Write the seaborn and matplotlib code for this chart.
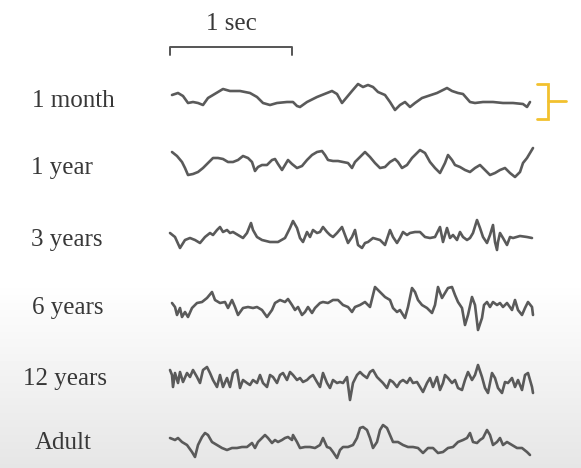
import matplotlib
matplotlib.use("Agg")
import matplotlib.pyplot as plt
import numpy as np
import pandas as pd
import seaborn as sns

# EEG traces by age.
# t = samples from trace start (FS samples = 1 sec), v = amplitude (arb. units, up = positive)
ages = ["1 month", "1 year", "3 years", "6 years", "12 years", "Adult"]

t_1month = [2, 8, 13, 18, 23, 28, 33, 38, 43, 48, 53, 60, 70, 80, 87, 93, 100, 107, 117, 123,
            127, 130, 137, 147, 157, 162, 167, 172, 177, 182, 188, 193, 198, 203, 208, 215, 220, 225, 230, 235,
            240, 245, 252, 258, 267, 277, 282, 288, 293, 300, 305, 313, 323, 333, 343, 353, 357, 360]
v_1month = [3, 5, 2, -5, -4, -5, -7, 0, 3, 6, 9, 7, 7, 5, 1, -5, -7, -5, -4, -4,
            -8, -9, -4, 1, 5, 7, 4, -5, 1, 7, 14, 11, 13, 11, 6, 3, -4, -12, -7, -4,
            -9, -5, 0, 2, 5, 10, 7, 5, 4, -4, -5, -4, -4, -5, -5, -6, -9, -4]

t_1year = [2, 7, 12, 15, 18, 23, 28, 33, 38, 43, 48, 53, 58, 63, 68, 73, 78, 82, 85, 88,
           92, 97, 102, 105, 108, 112, 115, 118, 122, 127, 132, 137, 142, 147, 152, 155, 158, 163, 168, 173,
           178, 182, 185, 190, 195, 200, 205, 210, 215, 220, 225, 228, 232, 237, 242, 247, 250, 255, 260, 265,
           270, 275, 278, 282, 285, 290, 295, 300, 305, 310, 315, 320, 325, 330, 335, 340, 345, 350, 353, 357,
           360, 363]
v_1year = [11, 7, 1, -5, -12, -11, -9, -5, 0, 5, 5, 4, 1, 1, 3, 7, 5, 1, -8, -4,
           -2, -2, 3, 4, -1, -7, -2, 3, -1, -5, -3, 3, 8, 11, 12, 8, 3, 2, 2, 1,
           0, -5, 1, 6, 11, 6, 0, -5, -4, 1, 4, 1, -5, -2, 5, 10, 13, 10, 1, -5,
           -10, 0, 8, 3, -2, -4, -7, -9, -5, -2, -7, -12, -10, -7, -5, -10, -14, -9, 0, 5,
           10, 15]

t_3years = [0, 5, 10, 15, 20, 25, 30, 35, 40, 43, 47, 50, 53, 57, 60, 63, 68, 73, 77, 81,
            83, 87, 92, 100, 108, 115, 120, 123, 127, 130, 133, 137, 140, 143, 147, 150, 153, 157, 160, 163,
            167, 172, 175, 178, 182, 185, 188, 192, 195, 198, 203, 210, 215, 220, 223, 227, 230, 233, 237, 240,
            245, 250, 255, 260, 265, 270, 273, 277, 280, 283, 287, 290, 293, 297, 300, 303, 307, 310, 313, 317,
            320, 323, 325, 327, 328, 330, 333, 337, 340, 343, 350, 357, 362]
v_3years = [3, -1, -12, -4, -2, -4, -7, -1, 3, 1, 6, 9, 4, 6, 3, 4, 1, -2, 3, 13,
            6, -1, -4, -6, -6, -2, 8, 15, 8, -2, -6, 4, -1, 6, 3, 4, 9, 4, 1, -1,
            3, 9, 1, -7, -1, 6, -9, -12, -7, -6, -2, -4, -9, 6, -1, -7, -2, 4, 1, 3,
            4, 4, -1, -2, -1, 9, -6, 8, -2, 1, -4, 4, -1, -4, -2, 3, 16, 8, -1, -7,
            1, 11, -6, -14, -6, 3, -2, -9, -1, -2, 0, -1, -2]

t_6years = [2, 5, 7, 10, 12, 15, 18, 22, 27, 32, 37, 42, 45, 50, 55, 58, 62, 65, 68, 73,
            78, 83, 87, 92, 97, 102, 105, 110, 115, 118, 122, 125, 128, 132, 135, 138, 142, 145, 150, 153,
            158, 163, 168, 173, 178, 182, 185, 190, 195, 200, 205, 210, 215, 220, 223, 227, 230, 235, 238, 242,
            245, 248, 252, 257, 262, 265, 268, 272, 275, 278, 282, 285, 288, 292, 295, 298, 302, 305, 308, 312,
            314, 317, 320, 323, 327, 330, 333, 337, 342, 345, 348, 352, 355, 358, 362, 363]
v_6years = [2, -2, -10, -3, -12, -7, -12, -3, 2, 3, 7, 13, 5, 2, 3, -3, 5, -2, -10, -3,
            -2, -3, -2, -5, -12, -5, 2, 5, 3, 6, 0, -5, -2, -10, -7, -2, -8, -3, 2, 3,
            2, 5, 5, 0, -2, -7, -2, 0, 3, -2, 18, 13, 8, 5, -3, -7, -5, -13, -2, 17,
            13, 5, 0, -3, -8, 0, 18, 7, 12, 17, 18, 10, 3, -3, -20, -10, 8, 0, -25, -13,
            0, 3, -2, 3, 0, 2, -2, 2, -5, 5, -5, -10, -3, 3, -2, -10]

t_12years = [0, 2, 3, 5, 8, 10, 13, 17, 20, 23, 27, 30, 33, 37, 40, 43, 47, 50, 53, 57,
             60, 63, 67, 70, 73, 77, 80, 83, 87, 90, 93, 97, 100, 103, 107, 110, 113, 117, 120, 123,
             127, 130, 133, 137, 140, 143, 147, 150, 153, 157, 160, 163, 167, 170, 173, 177, 180, 183, 187, 190,
             193, 197, 200, 203, 207, 210, 213, 217, 220, 223, 227, 230, 233, 237, 240, 243, 247, 250, 253, 257,
             260, 263, 267, 270, 273, 275, 278, 282, 285, 288, 292, 295, 298, 302, 305, 308, 312, 315, 318, 322,
             325, 328, 332, 335, 338, 342, 345, 348, 352, 355, 358, 362, 363]
v_12years = [10, 5, -7, 7, -3, 8, -2, 7, 3, 10, 3, -3, 10, 13, 7, 0, -7, 5, -7, 2,
             -7, 7, 10, -8, 0, -3, -5, 0, -3, 5, -3, -7, 5, 3, -3, 5, 7, 0, 8, 5,
             0, 2, -2, 0, 3, 5, -2, -7, 7, -3, -8, 0, -3, -2, -3, 3, -20, -3, 5, 8,
             5, 2, 8, 10, 3, 0, -3, -8, 0, -2, -7, -2, 0, -3, 2, -3, -2, -7, -12, -3,
             2, -7, 3, -10, -3, 5, 2, -3, 0, -8, -10, 0, 8, 0, 5, 15, 3, -8, -13, 7,
             2, -8, -13, -2, -3, 2, -7, 0, -10, 5, 7, -7, -13]

t_adult = [0, 5, 8, 12, 17, 22, 25, 28, 32, 35, 38, 42, 47, 52, 57, 62, 67, 72, 77, 82,
           85, 88, 92, 95, 98, 102, 105, 108, 112, 115, 118, 122, 123, 127, 130, 135, 140, 145, 150, 153,
           157, 160, 163, 167, 170, 173, 178, 183, 187, 190, 193, 197, 200, 203, 207, 210, 213, 217, 220, 223,
           228, 233, 238, 243, 248, 253, 258, 263, 268, 273, 278, 283, 288, 293, 297, 300, 303, 307, 310, 313,
           317, 320, 323, 327, 330, 333, 337, 342, 347, 352, 357, 360]
v_adult = [5, 3, 5, 1, -2, -9, -14, -2, 6, 10, 8, 1, -2, -5, -7, -5, -5, -4, -4, 0,
           -5, 1, 5, 8, 5, 0, 3, 1, 3, 5, 6, 3, 8, 1, -5, -4, -4, -5, -2, 5,
           -4, -5, -9, -15, -7, -4, -4, -2, 5, 15, 16, 13, 5, -5, 1, 13, 18, 15, 8, 1,
           1, -2, -4, -4, -5, -10, -5, -5, -10, -9, -5, -4, 1, 3, 5, 10, 1, 0, 3, 5,
           13, 8, -2, 1, 5, -2, 1, -2, -5, -5, -9, -12]

traces = [(t_1month, v_1month), (t_1year, v_1year), (t_3years, v_3years),
          (t_6years, v_6years), (t_12years, v_12years), (t_adult, v_adult)]

FS = 122  # samples per second

# ── layout (figure pixels) ───────────────────────────────────────────────────
W, H = 581, 468
X0 = 170                                   # where traces start
BASE_Y = [98, 163, 236, 305, 380, 443]     # trace baselines
LABEL_X = [73, 62, 67, 68, 65, 63]
LABEL_Y = [101, 168, 240, 308, 379, 443]

rows = []
for age, base, (t, v) in zip(ages, BASE_Y, traces):
    for ti, vi in zip(t, v):
        rows.append({"age": age, "t": ti, "y": base - vi})
df = pd.DataFrame(rows)

sns.set_style("white")
plt.rcParams["font.family"] = ["Liberation Serif", "DejaVu Serif"]

fig = plt.figure(figsize=(W / 100, H / 100), dpi=100)

# soft grey gradient in the lower half
bg = fig.add_axes([0, 0, 1, 1], zorder=0)
rowpos = np.arange(H)
shade = np.where(rowpos < 280, 1.0, 1.0 - 0.10 * (rowpos - 280) / (H - 280))
bg.imshow(np.repeat(shade[:, None], 4, axis=1), cmap="gray", vmin=0, vmax=1,
          extent=(0, 1, 0, 1), aspect="auto")
bg.axis("off")

ax = fig.add_axes([0, 0, 1, 1], zorder=1)
ax.patch.set_alpha(0)
sns.lineplot(data=df, x="t", y="y", units="age", estimator=None, sort=False,
             color="#5a5a5a", linewidth=1.9, ax=ax, legend=False,
             solid_joinstyle="round", solid_capstyle="round")
ax.set_xlim(-X0, W - X0)
ax.set_ylim(H, 0)
ax.axis("off")

for age, ly, lx in zip(ages, LABEL_Y, LABEL_X):
    ax.text(lx - X0, ly, age, ha="center", va="center",
            fontsize=18, color="#383838")

# 1 sec scale bar
ax.plot([0, 0, FS, FS], [55, 47, 47, 55], color="#555555", lw=1.4)
ax.text(FS / 2, 24, "1 sec", ha="center", va="center", fontsize=18, color="#383838")

# yellow bracket next to the 1 month trace
bx = 378
ax.plot([bx - 11, bx, bx, bx - 11], [84, 84, 119, 119], color="#f2c12e", lw=2,
        solid_joinstyle="miter")
ax.plot([bx, bx + 18], [101, 101], color="#f2c12e", lw=2)

fig.savefig("out.png", dpi=100)
